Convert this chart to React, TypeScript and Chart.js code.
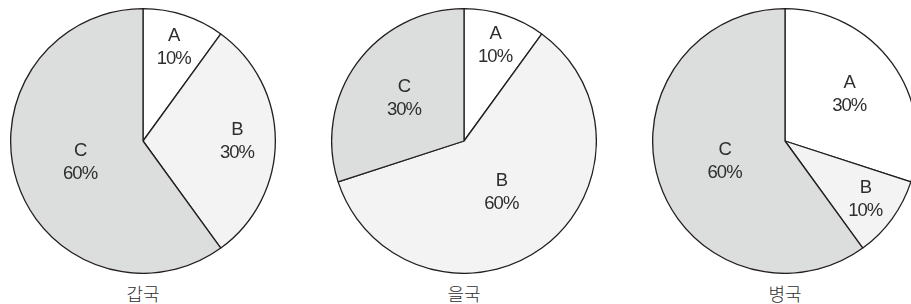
import React, { useEffect, useRef } from "react";
import { Chart, registerables } from "chart.js";

Chart.register(...registerables);

const categories = ["A", "B", "C"];
const countries = ["갑국", "을국", "병국"];
const valuesGap = [10, 30, 60];
const valuesEul = [10, 60, 30];
const valuesByeong = [30, 10, 60];
const seriesValues = [valuesGap, valuesEul, valuesByeong];

// layout (not data)
const CENTERS_X = [143, 464, 785];
const CENTER_Y = 141;
const SIZE = 266;
const LABEL_RADII = [
  [0.75, 0.71, 0.5],
  [0.76, 0.48, 0.56],
  [0.6, 0.75, 0.48],
];
const FILLS = ["#ffffff", "#f3f3f3", "#dcdddd"];
const STROKE = "#231f20";
const TEXT = "#2e2e2e";

const labelPlugin = {
  id: "sliceLabels",
  afterDatasetsDraw(chart: any, _args: any, opts: any) {
    const ctx = chart.ctx;
    const meta = chart.getDatasetMeta(0);
    const data = chart.data.datasets[0].data;
    ctx.save();
    ctx.fillStyle = TEXT;
    ctx.font = '18.5px "Liberation Sans", Arial, sans-serif';
    try {
      (ctx as any).letterSpacing = "-1px";
    } catch (e) {}
    ctx.textAlign = "center";
    ctx.textBaseline = "middle";
    meta.data.forEach((arc: any, i: number) => {
      const p = arc.getProps(["x", "y", "startAngle", "endAngle", "outerRadius"], true);
      const mid = (p.startAngle + p.endAngle) / 2;
      const r = p.outerRadius * opts.radii[i];
      const x = p.x + Math.cos(mid) * r;
      const y = p.y + Math.sin(mid) * r;
      ctx.fillText(chart.data.labels[i], x, y - 11);
      ctx.fillText(data[i] + "%", x, y + 12);
    });
    ctx.restore();
  },
};

function Pie({ idx }: { idx: number }) {
  const ref = useRef<HTMLCanvasElement>(null);
  useEffect(() => {
    if (!ref.current) return;
    const chart = new Chart(ref.current, {
      type: "pie",
      data: {
        labels: categories,
        datasets: [
          {
            data: seriesValues[idx],
            backgroundColor: FILLS,
            borderColor: STROKE,
            borderWidth: 1.3,
          },
        ],
      },
      options: {
        responsive: false,
        animation: false,
        devicePixelRatio: 1,
        layout: { padding: 0 },
        plugins: {
          legend: { display: false },
          tooltip: { enabled: false },
          sliceLabels: { radii: LABEL_RADII[idx] },
        } as any,
      },
      plugins: [labelPlugin],
    });
    return () => chart.destroy();
  }, [idx]);
  return (
    <canvas
      ref={ref}
      width={SIZE}
      height={SIZE}
      style={{
        position: "absolute",
        left: CENTERS_X[idx] - SIZE / 2,
        top: CENTER_Y - SIZE / 2,
        width: SIZE,
        height: SIZE,
      }}
    />
  );
}

export default function App() {
  return (
    <div
      style={{
        position: "fixed",
        left: 0,
        top: 0,
        width: 911,
        height: 304,
        overflow: "hidden",
        background: "#ffffff",
      }}
    >
      {countries.map((c, i) => (
        <React.Fragment key={c}>
          <Pie idx={i} />
          <div
            style={{
              position: "absolute",
              left: CENTERS_X[i] - 50,
              top: 281,
              width: 100,
              lineHeight: "24px",
              textAlign: "center",
              fontSize: 18,
              color: TEXT,
              fontFamily: '"Noto Sans CJK KR", sans-serif',
              fontWeight: 300,
            }}
          >
            {c}
          </div>
        </React.Fragment>
      ))}
    </div>
  );
}
